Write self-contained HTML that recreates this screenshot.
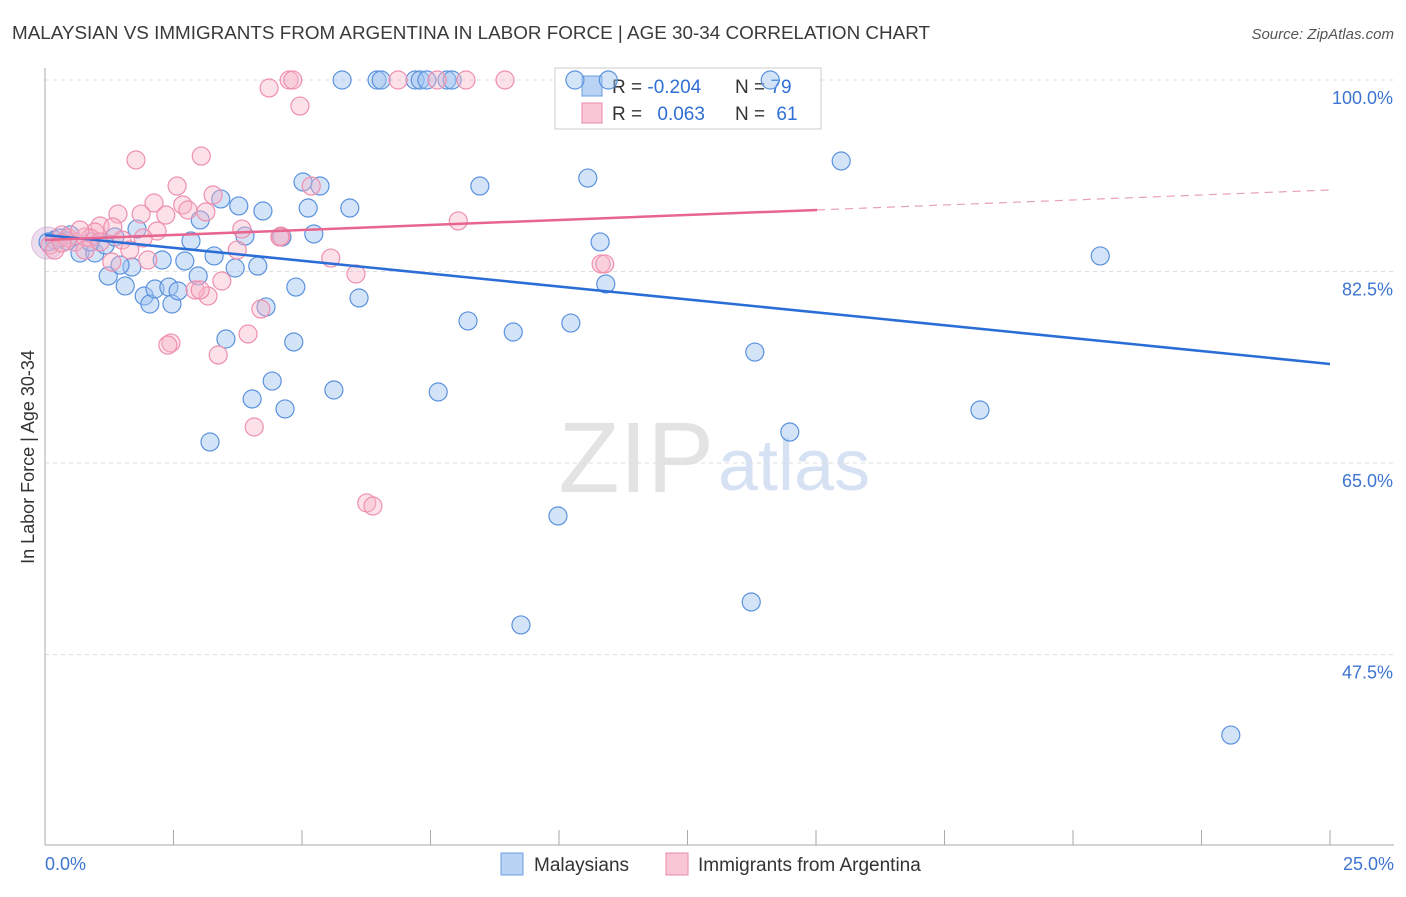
<!DOCTYPE html>
<html><head><meta charset="utf-8"><style>
body{margin:0;background:#fff;font-family:"Liberation Sans",sans-serif;}
svg text{font-family:"Liberation Sans",sans-serif;}
</style></head><body>
<svg id="chart" width="1406" height="892">
<text x="12" y="39" font-size="18" fill="#3a3a3a" textLength="918" lengthAdjust="spacingAndGlyphs">MALAYSIAN VS IMMIGRANTS FROM ARGENTINA IN LABOR FORCE | AGE 30-34 CORRELATION CHART</text>
<text x="1394" y="39" font-size="15" fill="#555" font-style="italic" text-anchor="end">Source: ZipAtlas.com</text>
<text x="714" y="492" font-size="100" fill="#e3e3e3" font-family="Liberation Serif" text-anchor="end">ZIP</text>
<text x="718" y="490" font-size="72" fill="#d6e2f3">atlas</text>
<g id="grid"></g>
<g id="axes"></g>
<g>
<rect x="555" y="68" width="266" height="61" fill="#fff" stroke="#ccc"/>
<rect x="582" y="76" width="20" height="20" fill="#b9d3f5" stroke="#6a9ee0"/>
<rect x="582" y="103" width="20" height="20" fill="#f9c6d5" stroke="#ea8aa8"/>
<text x="612" y="93" font-size="19" fill="#333">R = <tspan fill="#2f6fd6">-0.204</tspan></text>
<text x="735" y="93" font-size="19" fill="#333">N = <tspan fill="#2f6fd6">79</tspan></text>
<text x="612" y="120" font-size="19" fill="#333">R = <tspan fill="#2f6fd6" dx="10">0.063</tspan></text>
<text x="735" y="120" font-size="19" fill="#333">N = <tspan fill="#2f6fd6" dx="6">61</tspan></text>
</g>
<g id="pts"></g>
<g id="lines"></g>
<text transform="translate(34,457) rotate(-90)" font-size="18" fill="#333" text-anchor="middle">In Labor Force | Age 30-34</text>
<g>
<rect x="501" y="853" width="22" height="22" fill="#b9d3f5" stroke="#6a9ee0"/>
<text x="534" y="871" font-size="19" fill="#333">Malaysians</text>
<rect x="666" y="853" width="22" height="22" fill="#f9c6d5" stroke="#ea8aa8"/>
<text x="698" y="871" font-size="19" fill="#333">Immigrants from Argentina</text>
</g>
</svg>
<script>
const yTicks=[100,82.5,65,47.5];
const yTickLabels=["100.0%","82.5%","65.0%","47.5%"];
const xTickLabels=["0.0%","25.0%"];
const blueX=[5.78,6.46,6.54,7.20,7.30,7.43,7.82,7.92,10.31,10.96,14.11,15.49,10.56,8.46,5.02,5.35,3.42,3.77,4.24,5.12,5.93,10.80,20.53,1.79,2.84,3.89,5.23,4.61,0.19,0.49,0.68,0.97,1.17,1.36,1.23,1.56,1.69,1.46,1.93,2.04,2.14,2.28,2.41,2.47,2.59,2.72,2.98,3.29,3.70,4.14,4.88,4.30,6.11,8.23,9.11,10.23,10.91,3.52,4.84,13.81,4.42,4.03,4.67,5.62,7.65,3.21,14.49,18.19,9.98,9.26,13.74,23.07,0.29,0.06,0.88,3.02,0.43];
const blueY=[100,100,100,100,100,100,100,100,100,100,100,92.60,91.04,90.31,90.68,90.31,89.13,88.49,88.03,88.30,88.30,85.20,83.92,86.38,85.29,85.74,85.93,85.65,85.38,85.84,84.19,84.19,84.92,85.65,82.09,81.18,82.91,83.09,80.26,79.53,80.90,83.55,81.08,79.53,80.72,83.46,82.09,83.92,82.82,83.00,81.08,79.26,80.08,77.98,76.97,77.79,81.36,76.33,76.06,75.14,72.49,70.85,69.94,71.67,71.49,66.92,67.83,69.84,60.16,50.20,52.30,40.14,85.56,85.20,85.20,87.21,85.29];
const pinkX=[4.36,4.75,4.82,6.87,7.63,8.19,8.95,4.96,1.77,3.04,2.57,3.27,2.68,2.78,3.13,2.12,2.35,1.87,1.42,1.07,0.97,2.18,1.91,1.32,1.50,5.18,8.04,3.83,4.59,4.57,5.56,6.05,10.82,10.89,3.74,3.44,3.17,2.92,4.20,3.95,2.45,2.39,3.37,4.07,6.26,6.38,0.33,0.58,0.78,0.10,0.19,0.45,0.88,1.07,1.65,2.00,1.30,0.78,0.33,3.02,0.68];
const pinkY=[99.27,100,100,100,100,100,100,97.62,92.69,93.05,90.31,89.49,88.58,88.12,87.94,88.76,87.66,87.75,87.75,86.66,86.11,86.20,85.56,86.57,85.38,90.31,87.12,86.38,85.74,85.65,83.73,82.27,83.19,83.19,84.46,81.63,80.26,80.81,79.07,76.79,75.97,75.78,74.87,68.29,61.35,61.07,85.84,85.20,85.65,84.92,84.46,85.56,85.56,85.20,84.46,83.55,83.37,84.46,85.11,80.81,86.29];
const blueTrend=[85.84,74.05];
const pinkTrend=[85.38,89.95];
const pinkSolidEnd=15.02;

const NS="http://www.w3.org/2000/svg";
const sx=v=>45+v/25*1285;
const sy=v=>80+(100-v)/17.5*191.5;
function mk(tag,attrs,parent){const e=document.createElementNS(NS,tag);for(const k in attrs)e.setAttribute(k,attrs[k]);document.getElementById(parent).appendChild(e);return e;}

yTicks.forEach((t,i)=>{
 const g=mk('line',{x1:45,x2:1394,y1:sy(t),y2:sy(t),stroke:'#ddd','stroke-dasharray':'4,4'},'grid');
 
 
 const tx=mk('text',{x:1393,y:sy(t)+24,'font-size':18,fill:'#3d74d0','text-anchor':'end'},'axes');
 tx.textContent=yTickLabels[i];
 
 
});
const ax=mk('line',{x1:45,x2:45,y1:68,y2:845,stroke:'#aaa'},'axes');


const bx=mk('line',{x1:45,x2:1394,y1:845,y2:845,stroke:'#aaa'},'axes');


for(let i=0;i<=10;i++){
 const t=mk('line',{x1:sx(i*2.5),x2:sx(i*2.5),y1:830,y2:845,stroke:'#aaa'},'axes');
 
 
}
[[0,'start',45],[25,'end',1394]].forEach((d,i)=>{
 const tx=mk('text',{x:d[2],y:870,'font-size':18,fill:'#3d74d0','text-anchor':d[1]},'axes');
 tx.textContent=xTickLabels[i];
 
 
});
const big=mk('circle',{cx:sx(0.05),cy:sy(85.1),r:16,fill:'rgba(200,160,210,0.35)',stroke:'rgba(200,140,190,0.5)'},'pts');


blueX.forEach((x,i)=>{
 const c=mk('circle',{cx:sx(x),cy:sy(blueY[i]),r:9,fill:'rgba(160,195,240,0.45)',stroke:'#5b92de','stroke-width':1.2},'pts');
 
 
});
pinkX.forEach((x,i)=>{
 const c=mk('circle',{cx:sx(x),cy:sy(pinkY[i]),r:9,fill:'rgba(248,180,200,0.4)',stroke:'#ee8fae','stroke-width':1.2},'pts');
 
 
});
const bl=mk('line',{x1:sx(0),y1:sy(blueTrend[0]),x2:sx(25),y2:sy(blueTrend[1]),stroke:'#2a6dd6','stroke-width':2.5},'lines');


const pAt=x=>pinkTrend[0]+(pinkTrend[1]-pinkTrend[0])*x/25;
const pl=mk('line',{x1:sx(0),y1:sy(pinkTrend[0]),x2:sx(pinkSolidEnd),y2:sy(pAt(pinkSolidEnd)),stroke:'#e8658f','stroke-width':2.5},'lines');


const pd=mk('line',{x1:sx(pinkSolidEnd),y1:sy(pAt(pinkSolidEnd)),x2:sx(25),y2:sy(pinkTrend[1]),stroke:'#e8a0b8','stroke-width':1.2,'stroke-dasharray':'8,6'},'lines');


</script>
</body></html>
